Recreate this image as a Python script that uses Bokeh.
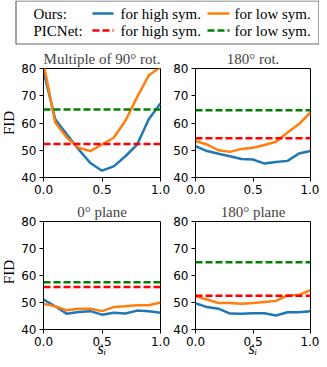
import math
from bokeh.plotting import figure
from bokeh.layouts import column, row
from bokeh.models import Range1d, NumeralTickFormatter, FixedTicker, Span
from bokeh.embed import file_html
from bokeh.resources import INLINE
from bokeh.core.properties import value

# ---------------- data ----------------
s_i = [0.0, 0.1, 0.2, 0.3, 0.4, 0.5, 0.6, 0.7, 0.8, 0.9, 1.0]

titles = ["Multiple of 90\u00b0 rot.", "180\u00b0 rot.", "0\u00b0 plane", "180\u00b0 plane"]

ours_high_90 = [79.0, 61.4, 55.8, 50.3, 45.3, 42.5, 44.1, 47.8, 52.1, 61.4, 67.2]
ours_low_90 = [82.0, 60.2, 54.6, 50.9, 49.7, 52.1, 54.6, 60.8, 69.5, 77.5, 80.5]
ours_high_180rot = [51.5, 49.7, 48.7, 47.8, 46.8, 46.6, 45.1, 45.7, 46.1, 48.8, 49.7]
ours_low_180rot = [53.4, 52.1, 50.0, 49.4, 50.5, 50.9, 51.9, 53.1, 56.5, 59.6, 63.9]
ours_high_0plane = [51.1, 48.6, 45.8, 46.5, 46.8, 45.5, 46.2, 45.9, 47.0, 46.8, 46.2]
ours_low_0plane = [49.5, 48.6, 47.1, 47.7, 47.7, 46.8, 48.3, 48.6, 49.0, 49.0, 50.0]
ours_high_180plane = [49.7, 48.3, 47.7, 45.9, 45.8, 46.0, 46.0, 45.2, 46.4, 46.4, 46.8]
ours_low_180plane = [52.3, 51.1, 49.8, 49.8, 49.5, 49.8, 50.2, 50.6, 52.6, 52.8, 54.6]

picnet_high = [52.3, 54.4, 55.7, 52.5]
picnet_low = [65.0, 64.7, 57.5, 64.9]

x_ticks = [0.0, 0.5, 1.0]
y_ticks = [40, 50, 60, 70, 80]

leg_names = ["Ours:", "PICNet:"]
leg_labels = ["for high sym.", "for low sym."]
x_label = "s\u1d62"
y_label = "FID"

BLUE = "#1f77b4"
ORANGE = "#ff7f0e"
RED = "#ff0000"
GREEN = "#008000"
SERIF = "Liberation Serif"
SANS = "DejaVu Sans"

# layout sizes (pixels)
W_STRIP = 18
W_LEFT, W_RIGHT = 152, 149
BL_LEFT, BR_LEFT = 25, 10
BL_RIGHT, BR_RIGHT = 23, 9
H_LEG = 45
H_ROW1, T_ROW1, B_ROW1 = 155, 23, 23
H_ROW2, T_ROW2, B_ROW2 = 159, 20, 30
TOTAL_W = W_STRIP + W_LEFT + W_RIGHT


def blank(width, height):
    f = figure(width=width, height=height, x_range=Range1d(0, width),
               y_range=Range1d(height, 0),
               output_backend="svg", toolbar_location=None,
               min_border_left=0, min_border_right=0, min_border_top=0, min_border_bottom=0)
    f.axis.visible = False
    f.grid.visible = False
    f.outline_line_color = None
    return f


def make_panel(idx, high, low, width, height, bl, br, bt, bb, xlabel):
    p = figure(width=width, height=height, x_range=Range1d(0, 1), y_range=Range1d(40, 80),
               output_backend="svg", toolbar_location=None,
               min_border_left=bl, min_border_right=br, min_border_top=bt, min_border_bottom=bb)
    p.title.text = titles[idx]
    p.title.text_font = SERIF
    p.title.text_font_size = "15px"
    p.title.text_font_style = "normal"
    p.title.align = "center"
    p.title.standoff = 3
    p.title.offset = 0
    p.line(s_i, high, color=BLUE, line_width=2.5)
    p.line(s_i, low, color=ORANGE, line_width=2.5)
    p.add_layout(Span(location=picnet_high[idx], dimension="width", line_color=RED,
                      line_width=2.5, line_dash="7 3"))
    p.add_layout(Span(location=picnet_low[idx], dimension="width", line_color=GREEN,
                      line_width=2.5, line_dash="7 3"))
    p.xgrid.visible = False
    p.ygrid.visible = False
    p.outline_line_color = "black"
    p.outline_line_width = 1
    p.outline_line_alpha = 1
    for ax in (p.xaxis[0], p.yaxis[0]):
        ax.axis_line_color = "black"
        ax.major_tick_out = 4
        ax.major_tick_in = 0
        ax.minor_tick_line_color = None
        ax.major_label_text_font = SANS
        ax.major_label_text_font_size = "12px"
        ax.major_label_text_color = "black"
        ax.major_label_standoff = 3
    p.xaxis.ticker = FixedTicker(ticks=x_ticks)
    p.xaxis.formatter = NumeralTickFormatter(format="0.0")
    p.yaxis.ticker = FixedTicker(ticks=y_ticks)
    if xlabel:
        p.xaxis.axis_label = x_label
        p.xaxis.axis_label_text_font = SERIF
        p.xaxis.axis_label_text_font_style = "italic"
        p.xaxis.axis_label_text_font_size = "16px"
        p.xaxis.axis_label_text_color = "black"
        p.xaxis.axis_label_standoff = -9
    return p


def fid_strip(height, top, frame_h):
    f = blank(W_STRIP, height)
    f.text(x=[8.5], y=[top + frame_h / 2], text=[y_label], angle=math.pi / 2,
           text_font=value(SERIF), text_font_size="15px", text_align="center",
           text_baseline="middle", text_color="black")
    return f


p1 = make_panel(0, ours_high_90, ours_low_90, W_LEFT, H_ROW1, BL_LEFT, BR_LEFT, T_ROW1, B_ROW1, False)
p2 = make_panel(1, ours_high_180rot, ours_low_180rot, W_RIGHT, H_ROW1, BL_RIGHT, BR_RIGHT, T_ROW1, B_ROW1, False)
p3 = make_panel(2, ours_high_0plane, ours_low_0plane, W_LEFT, H_ROW2, BL_LEFT, BR_LEFT, T_ROW2, B_ROW2, True)
p4 = make_panel(3, ours_high_180plane, ours_low_180plane, W_RIGHT, H_ROW2, BL_RIGHT, BR_RIGHT, T_ROW2, B_ROW2, True)

s1 = fid_strip(H_ROW1, T_ROW1, H_ROW1 - T_ROW1 - B_ROW1)
s2 = fid_strip(H_ROW2, T_ROW2, H_ROW2 - T_ROW2 - B_ROW2)

# ---------------- legend ----------------
leg = blank(TOTAL_W, H_LEG)
leg.quad(left=15.5, right=318.5, top=0.5, bottom=43.5, fill_color="white",
         line_color="#666666", line_width=1.2)
rows_y = [13, 30]
leg.text(x=[33, 33], y=rows_y, text=leg_names, text_font=value(SERIF), text_font_size="15px",
         text_baseline="middle", text_color="black")
leg.segment(x0=92, x1=113, y0=13, y1=13, line_color=BLUE, line_width=2.5)
leg.segment(x0=207, x1=229, y0=13, y1=13, line_color=ORANGE, line_width=2.5)
leg.segment(x0=92, x1=113, y0=30, y1=30, line_color=RED, line_width=2.5, line_dash="7 3")
leg.segment(x0=207, x1=229, y0=30, y1=30, line_color=GREEN, line_width=2.5, line_dash="7 3")
leg.text(x=[120, 120], y=rows_y, text=[leg_labels[0]] * 2, text_font=value(SERIF),
         text_font_size="15px", text_baseline="middle", text_color="black")
leg.text(x=[234, 234], y=rows_y, text=[leg_labels[1]] * 2, text_font=value(SERIF),
         text_font_size="15px", text_baseline="middle", text_color="black")

layout = column(leg, row(s1, p1, p2, spacing=0), row(s2, p3, p4, spacing=0), spacing=0)

open("out.html", "w").write(file_html(layout, INLINE))
